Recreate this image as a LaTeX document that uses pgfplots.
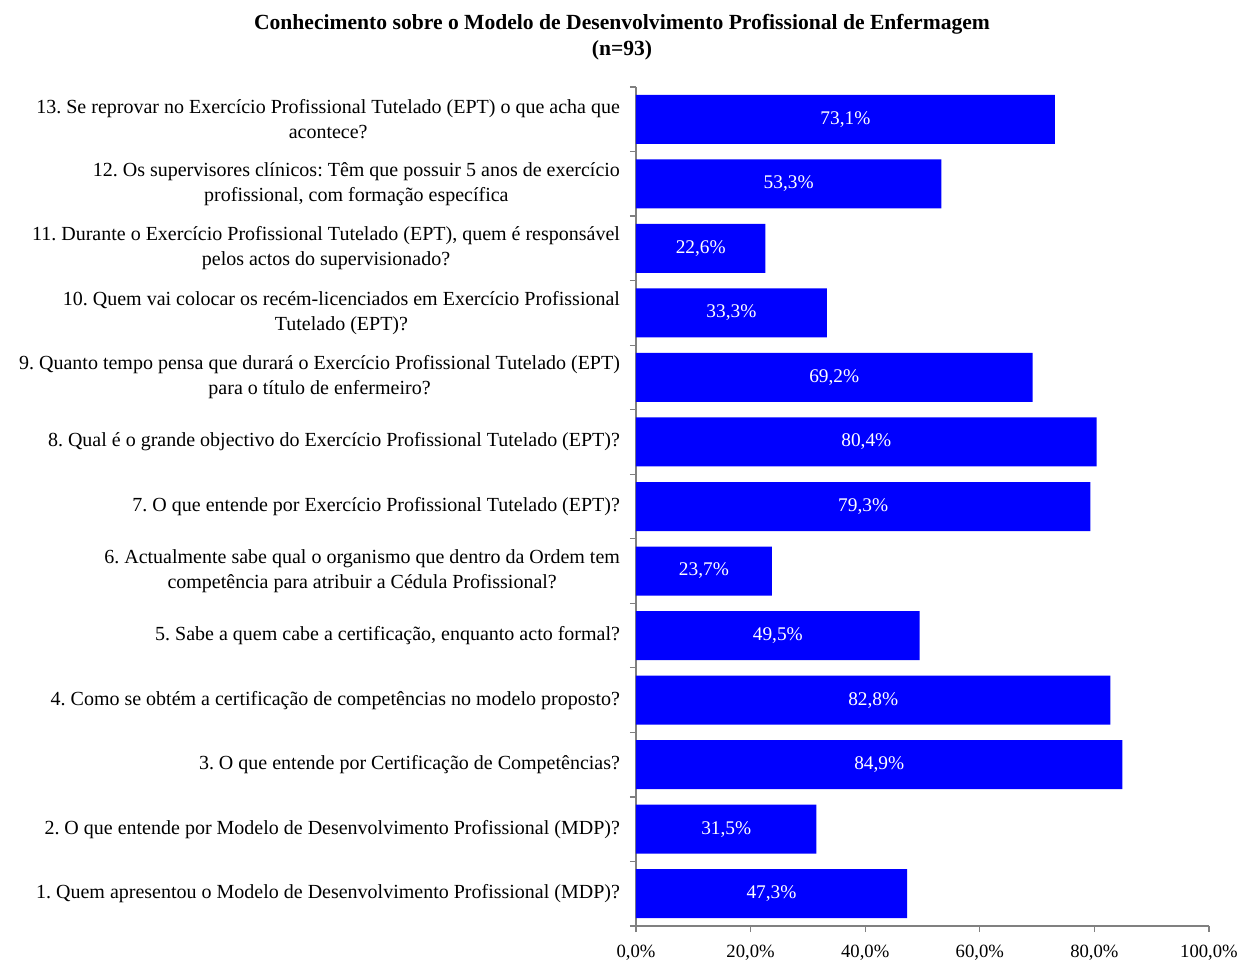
\documentclass[border=0pt]{standalone}
\usepackage{fontspec}
\setmainfont{Liberation Serif}
\usepackage{pgfplots}
\usepackage{pgfplotstable}
\pgfplotsset{compat=1.18}
\definecolor{barblue}{RGB}{0,0,255}
\definecolor{axgray}{RGB}{128,128,128}
\pgfplotstableread{
y v
1 47.3
2 31.5
3 84.9
4 82.8
5 49.5
6 23.7
7 79.3
8 80.4
9 69.2
10 33.3
11 22.6
12 53.3
13 73.1
}\datatable
\begin{document}
\frenchspacing
\begin{tikzpicture}
\useasboundingbox (0pt,0pt) rectangle (930pt,-720.75pt);
\node[font=\fontsize{16.2}{19.5}\selectfont\bfseries, align=center] at (466.5pt,-27.75pt) {Conhecimento sobre o Modelo de Desenvolvimento Profissional de Enfermagem\\(n=93)};
\begin{axis}[
  at={(477pt,-694.5pt)}, anchor=south west,
  scale only axis, width=429.75pt, height=629.25pt,
  xmin=0, xmax=100, ymin=0.5, ymax=13.5,
  axis lines*=left,
  axis line style={axgray, line width=0.9pt},
  tick style={axgray, line width=0.9pt},
  tick align=outside, major tick length=4.5pt,
  /pgf/number format/assume math mode=true,
  xtick={0,20,...,100},
  xticklabel={\pgfmathprintnumber[fixed,fixed zerofill,precision=1,use comma]{\tick}\%},
  xticklabel style={font=\fontsize{14}{17}\selectfont, yshift=-6pt},
  ytick={0.5,1.5,...,13.5},
  y tick label as interval,
  yticklabels={
    {1. Quem apresentou o Modelo de Desenvolvimento Profissional (MDP)?},
    {2. O que entende por Modelo de Desenvolvimento Profissional (MDP)?},
    {3. O que entende por Certificação de Competências?},
    {4. Como se obtém a certificação de competências no modelo proposto?},
    {5. Sabe a quem cabe a certificação, enquanto acto formal?},
    {6. Actualmente sabe qual o organismo que dentro da Ordem tem\\competência para atribuir a Cédula Profissional?},
    {7. O que entende por Exercício Profissional Tutelado (EPT)?},
    {8. Qual é o grande objectivo do Exercício Profissional Tutelado (EPT)?},
    {9. Quanto tempo pensa que durará o Exercício Profissional Tutelado (EPT)\\para o título de enfermeiro?},
    {10. Quem vai colocar os recém-licenciados em Exercício Profissional\\Tutelado (EPT)?},
    {11. Durante o Exercício Profissional Tutelado (EPT), quem é responsável\\pelos actos do supervisionado?},
    {12. Os supervisores clínicos: Têm que possuir 5 anos de exercício\\profissional, com formação específica},
    {13. Se reprovar no Exercício Profissional Tutelado (EPT) o que acha que\\acontece?}
  },
  yticklabel style={font=\fontsize{15}{18.75}\selectfont\frenchspacing, align=center, anchor=east, xshift=-4pt},
]
\addplot[xbar, bar width=36.75pt, fill=barblue, draw=none] table[x=v, y=y] {\datatable};
\addplot[draw=none, mark=none, point meta=explicit,
  nodes near coords={\pgfmathprintnumber[fixed,fixed zerofill,precision=1,use comma]{\pgfplotspointmeta}\%},
  every node near coord/.append style={anchor=center, text=white, font=\fontsize{14.5}{17}\selectfont}]
  table[x expr=\thisrow{v}/2, y=y, meta=v] {\datatable};
\end{axis}
\end{tikzpicture}
\end{document}
